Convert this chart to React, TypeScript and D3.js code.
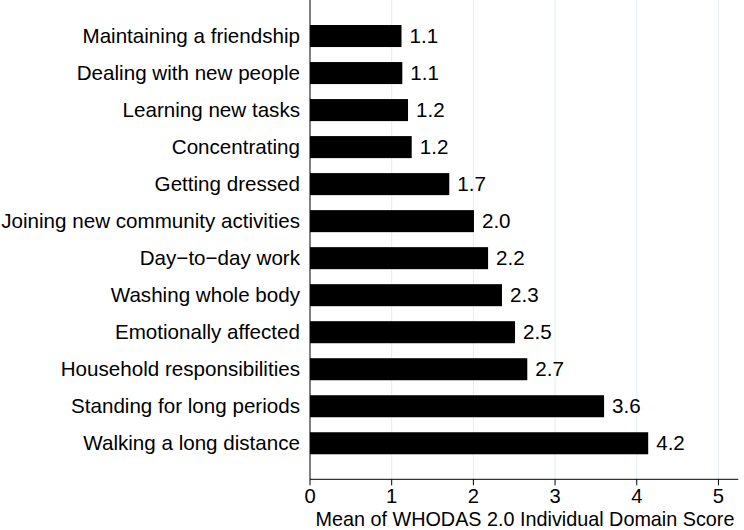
import React from "react";
import * as d3 from "d3";

const categories = [
  "Maintaining a friendship",
  "Dealing with new people",
  "Learning new tasks",
  "Concentrating",
  "Getting dressed",
  "Joining new community activities",
  "Day\u2212to\u2212day work",
  "Washing whole body",
  "Emotionally affected",
  "Household responsibilities",
  "Standing for long periods",
  "Walking a long distance",
];
const values = [1.12, 1.13, 1.2, 1.245, 1.705, 2.007, 2.18, 2.35, 2.51, 2.66, 3.6, 4.14];
const labels = ["1.1", "1.1", "1.2", "1.2", "1.7", "2.0", "2.2", "2.3", "2.5", "2.7", "3.6", "4.2"];
const xTicks = [0, 1, 2, 3, 4, 5];
const xTitle = "Mean of WHODAS 2.0 Individual Domain Score";

const W = 744;
const H = 530;
const left = 310;
const right = 738.3;
const top = 0;
const bottom = 479.3;
const font = "Liberation Sans, Arial, sans-serif";
const fs = 20.6;

export default function App() {
  const x = d3.scaleLinear().domain([0, 5.243]).range([left, right]);
  const y = d3
    .scaleBand<string>()
    .domain(categories)
    .range([top, bottom])
    .paddingInner(0.405)
    .paddingOuter(0.676);
  return (
    <svg width={W} height={H} style={{ position: "absolute", left: 0, top: 0 }}>
      <rect x={0} y={0} width={W} height={H} fill="#fff" />
      {xTicks.slice(1).map((t) => (
        <line key={"g" + t} x1={x(t)} x2={x(t)} y1={top} y2={bottom} stroke="#e2eef0" strokeWidth={1} />
      ))}
      {categories.map((c, i) => (
        <g key={c}>
          <rect x={x(0)} y={y(c)} width={x(values[i]) - x(0)} height={y.bandwidth()} fill="#000" />
          <text
            x={x(values[i]) + 8}
            y={(y(c) as number) + y.bandwidth() / 2}
            dy="0.35em"
            fontFamily={font}
            fontSize={fs}
            fill="#000"
          >
            {labels[i]}
          </text>
          <text
            x={left - 10}
            y={(y(c) as number) + y.bandwidth() / 2}
            dy="0.35em"
            textAnchor="end"
            fontFamily={font}
            fontSize={fs}
            fill="#000"
          >
            {c}
          </text>
        </g>
      ))}
      <line x1={left} x2={left} y1={top} y2={bottom} stroke="#000" strokeWidth={1} />
      <line x1={left} x2={right} y1={bottom} y2={bottom} stroke="#000" strokeWidth={1} />
      {xTicks.map((t) => (
        <g key={"t" + t}>
          <line x1={x(t)} x2={x(t)} y1={bottom} y2={bottom + 6} stroke="#000" strokeWidth={1} />
          <text x={x(t)} y={503} textAnchor="middle" fontFamily={font} fontSize={20.2} fill="#000">
            {t}
          </text>
        </g>
      ))}
      <text x={525} y={525.5} textAnchor="middle" fontFamily={font} fontSize={19.8} fill="#000">
        {xTitle}
      </text>
    </svg>
  );
}
